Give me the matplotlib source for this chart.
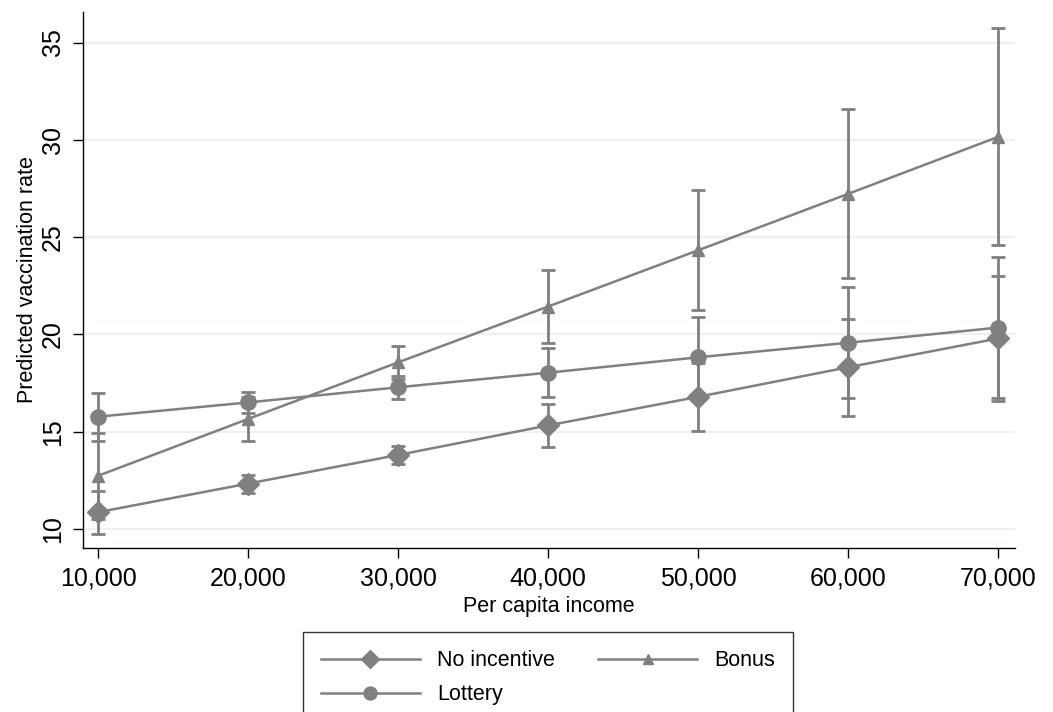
import matplotlib
matplotlib.use('Agg')
import matplotlib.pyplot as plt

# Predicted vaccination rate by per capita income, with 95% CIs
income = [10000, 20000, 30000, 40000, 50000, 60000, 70000]
income_labels = ['10,000', '20,000', '30,000', '40,000', '50,000', '60,000', '70,000']

no_incentive = [10.86, 12.33, 13.80, 15.32, 16.79, 18.31, 19.79]
no_incentive_ci = [1.10, 0.46, 0.47, 1.10, 1.75, 2.50, 3.19]

bonus = [12.73, 15.65, 18.56, 21.43, 24.32, 27.22, 30.15]
bonus_ci = [2.21, 1.12, 0.84, 1.88, 3.09, 4.34, 5.58]

lottery = [15.77, 16.50, 17.28, 18.03, 18.82, 19.57, 20.35]
lottery_ci = [1.23, 0.52, 0.60, 1.27, 2.06, 2.84, 3.61]

y_ticks = [10, 15, 20, 25, 30, 35]

plt.rcParams['font.family'] = ['Liberation Sans', 'DejaVu Sans']

grey = '#808080'

fig = plt.figure(figsize=(10.53, 7.12), dpi=100)
ax = fig.add_axes([83 / 1053, 1 - 548 / 712, (1015 - 83) / 1053, (548 - 12) / 712])

series = [
    ('No incentive', no_incentive, no_incentive_ci, 'D', 11),
    ('Bonus', bonus, bonus_ci, '^', 9),
    ('Lottery', lottery, lottery_ci, 'o', 11),
]
handles = {}
for name, vals, ci, marker, ms in series:
    ax.errorbar(income, vals, yerr=ci, fmt='none', ecolor=grey, elinewidth=2,
                capsize=5, capthick=2, zorder=2)
    line, = ax.plot(income, vals, color=grey, linewidth=1.8, marker=marker,
                    markersize=ms, markerfacecolor=grey, markeredgecolor=grey,
                    zorder=3, label=name)
    handles[name] = line

ax.set_xlim(9000, 71130)
ax.set_ylim(9.02, 36.57)
ax.set_xticks(income)
ax.set_xticklabels(income_labels, fontsize=18)
ax.set_yticks(y_ticks)
ax.set_yticklabels([str(t) for t in y_ticks], fontsize=18, rotation=90, va='center')
ax.tick_params(axis='both', direction='out', length=7, width=1, color='black')
ax.tick_params(axis='x', pad=6)
ax.tick_params(axis='y', pad=6)

ax.grid(axis='y', color='#eaf2f3', linewidth=1.5)
ax.set_axisbelow(True)
for side in ['top', 'right']:
    ax.spines[side].set_visible(False)
for side in ['left', 'bottom']:
    ax.spines[side].set_linewidth(1)
    ax.spines[side].set_color('black')

ax.set_xlabel('Per capita income', fontsize=15.5, labelpad=4)
ax.set_ylabel('Predicted vaccination rate', fontsize=15.5, labelpad=2)

order = ['No incentive', 'Lottery', 'Bonus']
leg = fig.legend([handles[k] for k in order], order, loc='upper center',
                 bbox_to_anchor=(548 / 1053, 1 - 632 / 712), ncol=2,
                 fontsize=15.5, frameon=True, fancybox=False, handlelength=4.6,
                 handletextpad=0.8, columnspacing=2.0, borderpad=0.85,
                 borderaxespad=0, labelspacing=0.6, markerscale=0.85)
leg.get_frame().set_edgecolor('black')
leg.get_frame().set_linewidth(1)

fig.savefig('out.png', dpi=100, facecolor='white')
